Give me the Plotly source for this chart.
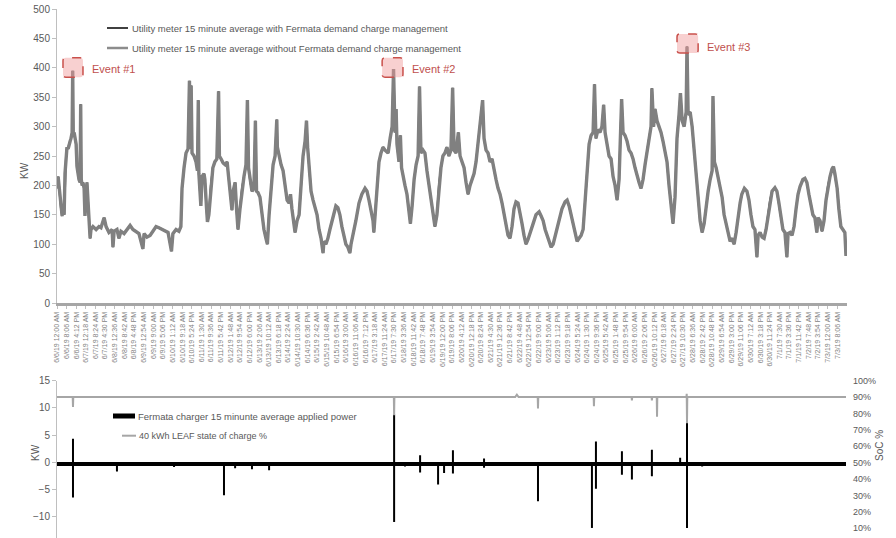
import plotly.graph_objects as go

# ---------------- data (x in days since 6/6/19 12:00 AM) ----------------
t_days = [
    0.00, 0.04, 0.07, 0.11, 0.14, 0.18, 0.21, 0.25, 0.28, 0.32, 0.35, 0.39, 0.42, 0.46, 0.49, 0.53, 0.55, 0.57,
    0.60, 0.63, 0.67, 0.70, 0.74, 0.77, 0.81, 0.83, 0.85, 0.88, 0.91, 0.95, 0.98, 1.02, 1.05, 1.09, 1.12, 1.16, 1.19,
    1.26, 1.37, 1.47, 1.54, 1.65, 1.72, 1.82, 1.93, 1.96, 2.00, 2.10, 2.17, 2.24, 2.35, 2.45, 2.56, 2.66, 2.77, 2.87,
    3.01, 3.05, 3.15, 3.26, 3.36, 3.47, 3.57, 3.68, 3.78, 3.89, 4.01, 4.06, 4.17, 4.27, 4.34,
    4.38, 4.45, 4.52, 4.59, 4.64, 4.68, 4.70, 4.73, 4.80, 4.87, 4.92, 4.95, 4.97, 5.04, 5.08, 5.15, 5.18, 5.24, 5.27,
    5.32, 5.39, 5.46, 5.53, 5.60, 5.66, 5.69, 5.75, 5.82, 5.89, 5.96, 6.01, 6.06, 6.13, 6.17, 6.24, 6.29, 6.34, 6.41,
    6.48, 6.55, 6.62, 6.67, 6.71, 6.76, 6.83, 6.90, 6.95, 6.99, 7.04, 7.11, 7.18, 7.25, 7.32, 7.37, 7.43, 7.50, 7.57,
    7.64, 7.70, 7.72, 7.78, 7.85, 7.92, 7.99, 8.06, 8.13, 8.18, 8.23, 8.27, 8.34, 8.41, 8.48,
    8.55, 8.62, 8.69, 8.74, 8.78, 8.83, 8.90, 8.97, 9.04, 9.11, 9.18, 9.25, 9.32, 9.35, 9.42, 9.49, 9.56, 9.63, 9.70,
    9.77, 9.84, 9.91, 9.98, 10.05, 10.12, 10.19, 10.26, 10.30, 10.37, 10.47, 10.58, 10.68, 10.79, 10.86, 10.93, 11.00,
    11.07, 11.10, 11.14,
    11.21, 11.28, 11.35, 11.42, 11.49, 11.60, 11.67, 11.74, 11.79, 11.84, 11.88, 11.91, 11.98, 12.03, 12.07, 12.12,
    12.19, 12.26, 12.33, 12.38, 12.44, 12.51, 12.58, 12.65, 12.70, 12.75, 12.82, 12.89, 12.96, 13.03, 13.10, 13.17,
    13.24, 13.31, 13.38, 13.45, 13.52, 13.59, 13.66, 13.73, 13.80, 13.86, 13.91, 13.98, 14.06, 14.12, 14.19, 14.26,
    14.33, 14.40, 14.47, 14.54, 14.61, 14.68, 14.75, 14.82, 14.91, 14.96, 15.03, 15.10, 15.17, 15.24, 15.31, 15.38,
    15.45, 15.52, 15.59, 15.66, 15.73, 15.80, 15.87,
    15.94, 16.01, 16.08, 16.15, 16.22, 16.29, 16.36, 16.43, 16.50, 16.57, 16.68, 16.78, 16.89, 16.96, 17.03, 17.10,
    17.17, 17.24, 17.31, 17.38, 17.48, 17.59, 17.69, 17.80, 17.87, 17.94, 18.01, 18.08, 18.15, 18.22, 18.29, 18.36,
    18.43, 18.50, 18.57, 18.64,
    18.71, 18.78, 18.83, 18.88, 18.95, 19.02, 19.09, 19.15, 19.20, 19.27, 19.34, 19.41, 19.48, 19.55, 19.62, 19.69,
    19.74, 19.78, 19.83, 19.90, 19.97, 20.04, 20.11, 20.18, 20.25, 20.32, 20.39, 20.46, 20.53, 20.60, 20.67, 20.74,
    20.81, 20.84, 20.90, 20.95, 21.02, 21.09, 21.16, 21.23, 21.30, 21.37, 21.44, 21.51, 21.58, 21.65, 21.72, 21.79,
    21.84, 21.90, 21.97, 22.04, 22.07, 22.11, 22.18, 22.25, 22.32, 22.39, 22.46, 22.53, 22.60, 22.67, 22.74, 22.81,
    22.88, 22.95, 22.98, 23.03, 23.09, 23.16, 23.23, 23.30, 23.37, 23.44, 23.51, 23.58, 23.65,
    23.72, 23.79, 23.86, 23.93, 23.99, 24.08, 24.17, 24.24, 24.31, 24.38, 24.45, 24.52, 24.56, 24.63, 24.70, 24.77,
    24.84, 24.91, 24.98, 25.05, 25.15, 25.22, 25.29, 25.36, 25.43, 25.50, 25.57, 25.61, 25.68, 25.75, 25.82, 25.89,
    25.96, 26.03, 26.13, 26.20, 26.27, 26.34, 26.41, 26.48, 26.55, 26.62, 26.66, 26.73, 26.80, 26.87, 26.94, 27.01,
    27.08, 27.15, 27.20, 27.25, 27.33, 27.39, 27.46, 27.53, 27.60, 27.64,
]
kw_without = [
    195, 215, 200, 175, 160, 148, 160, 150, 220, 255, 265, 262, 270, 275, 280, 290, 395, 285,
    290, 280, 270, 232, 215, 210, 205, 338, 210, 200, 205, 195, 148, 200, 205, 170, 130, 110, 125,
    130, 125, 130, 128, 145, 130, 120, 125, 95, 122, 125, 110, 122, 118, 125, 132, 125, 122, 118,
    92, 118, 112, 115, 122, 130, 128, 125, 122, 120, 88, 118, 125, 122, 130,
    195, 230, 255, 262, 378, 262, 370, 255, 250, 240, 225, 345, 220, 165, 215, 220, 210, 160, 138,
    150, 200, 230, 240, 245, 360, 250, 245, 238, 235, 240, 215, 195, 158, 190, 205, 160, 125, 160,
    195, 215, 235, 345, 230, 210, 190, 195, 310, 190, 188, 180, 150, 125, 110, 100, 150, 200, 235,
    250, 312, 265, 250, 235, 225, 200, 175, 170, 185, 160, 145, 120, 140, 150,
    200, 250, 275, 310, 265, 230, 190, 175, 160, 150, 125, 110, 85, 105, 100, 110, 125, 140, 155,
    165, 162, 150, 130, 115, 100, 95, 85, 100, 115, 140, 170, 185, 195, 190, 175, 155,
    140, 120, 150,
    200, 240, 255, 265, 260, 255, 280, 300, 398, 290, 330, 270, 240, 285, 230, 215,
    200, 185, 150, 135, 165, 210, 235, 250, 368, 255, 260, 255, 225, 200, 180, 150,
    130, 150, 200, 230, 250, 255, 265, 250, 260, 366, 260, 255, 290, 250, 240, 230,
    205, 185, 200, 210, 220, 240, 270, 300, 345, 280, 260, 255, 240, 245, 225, 210,
    195, 185, 170, 150, 130, 115, 110,
    130, 160, 172, 170, 155, 135, 115, 100, 108, 120, 135, 150, 155, 148, 140, 125,
    115, 105, 95, 100, 120, 140, 160, 172, 175, 165, 150, 130, 115, 105, 110, 115,
    125, 170, 230, 270,
    285, 290, 372, 280, 295, 290, 300, 337, 290, 270, 250, 245, 215, 200, 175, 210,
    290, 347, 290, 285, 275, 260, 255, 245, 230, 215, 205, 195, 210, 235, 260, 280,
    300, 365, 300, 330, 310, 300, 290, 275, 255, 240, 200, 160, 135, 180, 280, 320,
    357, 310, 300, 325, 436, 320, 325, 300, 255, 225, 180, 140, 120, 135, 165, 190,
    210, 225, 352, 240, 230, 215, 200, 180, 150, 135, 120, 105, 110,
    100, 120, 150, 170, 185, 195, 190, 175, 150, 130, 125, 78, 115, 120, 112, 110,
    125, 150, 175, 190, 196, 190, 170, 145, 125, 120, 78, 118, 120, 115, 130, 160,
    185, 198, 210, 212, 205, 185, 165, 150, 145, 120, 145, 140, 122, 140, 175, 200,
    215, 228, 232, 220, 195, 160, 130, 125, 120, 80,
]
# the "with Fermata" trace lies underneath the "without" trace in the picture
kw_with = list(kw_without)

# Fermata charger applied power: events (day, positive kW, negative kW)
power_t = [0.56, 2.10, 4.10, 5.85, 6.24, 6.83, 7.43, 11.81, 12.19, 12.72, 13.35, 13.56, 13.87, 14.96,
           16.85, 18.74, 18.88, 19.79, 20.14, 20.84, 21.83, 22.07, 22.60, 23.65]
power_up = [4.3, 0, 0, 0, 0, 0, 0, 8.8, 0, 1.3, 0, 0, 2.2, 0.7,
            0, 0, 3.8, 2.0, 0, 2.3, 0.8, 7.4, 0, 0]
power_down = [-6.5, -1.7, -0.9, -6.1, -1.1, -1.3, -1.5, -11.0, -0.8, -1.9, -4.1, -2.0, -2.1, -1.0,
              -7.2, -12.1, -4.9, -2.3, -3.2, -2.6, -0.7, -12.1, -0.8, -0.7]
power_base_t = [0.0, 27.64]
power_base = [-0.35, -0.35]

# LEAF state of charge %
soc_t = [0.0, 0.55, 0.56, 0.57, 11.80, 11.81, 11.82, 16.05, 16.11, 16.17, 16.84, 16.85, 16.86,
         18.80, 18.81, 18.82, 20.13, 20.14, 20.15, 20.83, 20.84, 20.85, 21.01, 21.02, 21.03,
         22.05, 22.06, 22.07, 22.08, 27.64]
soc = [90, 90, 84, 90, 90, 79, 90, 90, 91.5, 90, 90, 83, 90,
       90, 84.5, 90, 90, 88, 90, 90, 88, 90, 90, 78, 90,
       90, 92, 74, 90, 90]

tick_labels = [
    "6/6/19 12:00 AM", "6/6/19 8:06 AM", "6/6/19 4:12 PM", "6/7/19 12:18 AM", "6/7/19 8:24 AM", "6/7/19 4:30 PM",
    "6/8/19 12:36 AM", "6/8/19 8:42 AM", "6/8/19 4:48 PM", "6/9/19 12:54 AM", "6/9/19 9:00 AM", "6/9/19 5:06 PM",
    "6/10/19 1:12 AM", "6/10/19 9:18 AM", "6/10/19 5:24 PM", "6/11/19 1:30 AM", "6/11/19 9:36 AM", "6/11/19 5:42 PM",
    "6/12/19 1:48 AM", "6/12/19 9:54 AM", "6/12/19 6:00 PM", "6/13/19 2:06 AM", "6/13/19 10:12 AM", "6/13/19 6:18 PM",
    "6/14/19 2:24 AM", "6/14/19 10:30 AM", "6/14/19 6:36 PM", "6/15/19 2:42 AM", "6/15/19 10:48 AM", "6/15/19 6:54 PM",
    "6/16/19 3:00 AM", "6/16/19 11:06 AM", "6/16/19 7:12 PM", "6/17/19 3:18 AM", "6/17/19 11:24 AM", "6/17/19 7:30 PM",
    "6/18/19 3:36 AM", "6/18/19 11:42 AM", "6/18/19 7:48 PM", "6/19/19 3:54 AM", "6/19/19 12:00 PM", "6/19/19 8:06 PM",
    "6/20/19 4:12 AM", "6/20/19 12:18 PM", "6/20/19 8:24 PM", "6/21/19 4:30 AM", "6/21/19 12:36 PM", "6/21/19 8:42 PM",
    "6/22/19 4:48 AM", "6/22/19 12:54 PM", "6/22/19 9:00 PM", "6/23/19 5:06 AM", "6/23/19 1:12 PM", "6/23/19 9:18 PM",
    "6/24/19 5:24 AM", "6/24/19 1:30 PM", "6/24/19 9:36 PM", "6/25/19 5:42 AM", "6/25/19 1:48 PM", "6/25/19 9:54 PM",
    "6/26/19 6:00 AM", "6/26/19 2:06 PM", "6/26/19 10:12 PM", "6/27/19 6:18 AM", "6/27/19 2:24 PM", "6/27/19 10:30 PM",
    "6/28/19 6:36 AM", "6/28/19 2:42 PM", "6/28/19 10:48 PM", "6/29/19 6:54 AM", "6/29/19 3:00 PM", "6/29/19 11:06 PM",
    "6/30/19 7:12 AM", "6/30/19 3:18 PM", "6/30/19 11:24 PM", "7/1/19 7:30 AM", "7/1/19 3:36 PM", "7/1/19 11:42 PM",
    "7/2/19 7:48 AM", "7/2/19 3:54 PM", "7/3/19 12:00 AM", "7/3/19 8:06 AM",
]
tick_step_days = 8.1 / 24.0  # label spacing: 8 h 06 min
tick_vals = [i * tick_step_days for i in range(len(tick_labels))]

legend_top = ["Utility meter 15 minute average with Fermata demand charge management",
              "Utility meter 15 minute average without Fermata demand charge management"]
legend_bottom = ["Fermata charger 15 minunte average applied power", "40 kWh LEAF state of charge %"]
events = ["Event #1", "Event #2", "Event #3"]

# ---------------- figure ----------------
W, H = 896, 538
ML, MR, MT, MB = 57, 49, 9, 0
PW, PH = W - ML - MR, H - MT - MB


def px(x):
    return (x - ML) / PW


def py(y):
    return (H - MB - y) / PH


FONT = "Liberation Sans, Arial, sans-serif"
TXT = "#595959"

fig = go.Figure()
fig.add_trace(go.Scatter(x=t_days, y=kw_with, mode="lines", line=dict(color="#262626", width=2),
                         xaxis="x", yaxis="y", showlegend=False, hoverinfo="skip"))
fig.add_trace(go.Scatter(x=t_days, y=kw_without, mode="lines", line=dict(color="#808080", width=3.4),
                         xaxis="x", yaxis="y", showlegend=False))

# charger power: baseline band + vertical spikes
fig.add_trace(go.Scatter(x=power_base_t, y=power_base, mode="lines", line=dict(color="black", width=4),
                         xaxis="x2", yaxis="y2", showlegend=False, hoverinfo="skip"))
sx, sy = [], []
for t, u, d in zip(power_t, power_up, power_down):
    sx += [t, t, None]
    sy += [u, d, None]
fig.add_trace(go.Scatter(x=sx, y=sy, mode="lines", line=dict(color="black", width=2),
                         xaxis="x2", yaxis="y2", showlegend=False, connectgaps=False))
fig.add_trace(go.Scatter(x=soc_t, y=soc, mode="lines", line=dict(color="#a6a6a6", width=2),
                         xaxis="x2", yaxis="y3", showlegend=False))

x_end = 82 * tick_step_days

fig.update_layout(
    width=W, height=H, autosize=False,
    margin=dict(l=ML, r=MR, t=MT, b=MB, autoexpand=False),
    paper_bgcolor="white", plot_bgcolor="white",
    font=dict(family=FONT, color=TXT, size=10),
    showlegend=False,
    xaxis=dict(domain=[0, 1], anchor="y", range=[0, x_end], tickmode="array",
               tickvals=tick_vals, ticktext=tick_labels, tickangle=-90,
               tickfont=dict(size=7, color="#7f7f7f"), showline=True, linecolor="#a6a6a6", linewidth=3,
               ticks="outside", ticklen=3, tickcolor="#bfbfbf", showgrid=False, zeroline=False),
    yaxis=dict(domain=[py(303), 1], range=[0, 500], dtick=50, tick0=0, showline=True,
               linecolor="#bfbfbf", ticks="outside", ticklen=4, tickcolor="#bfbfbf",
               tickfont=dict(size=10, color=TXT), showgrid=False, zeroline=False),
    xaxis2=dict(domain=[0, 1], anchor="y2", matches="x", range=[0, x_end], showticklabels=False,
                showline=False, ticks="", showgrid=False, zeroline=False),
    yaxis2=dict(domain=[0, py(380.7)], range=[-13.95, 15], dtick=5, tick0=0, showline=True,
                linecolor="#bfbfbf", ticks="outside", ticklen=4, tickcolor="#bfbfbf",
                tickfont=dict(size=10, color=TXT), showgrid=False, zeroline=False),
    yaxis3=dict(overlaying="y2", side="right", anchor="x2", range=[4.1, 100], dtick=10, tick0=0,
                ticksuffix="%", showline=False, ticks="", ticklabelstandoff=5,
                tickfont=dict(size=9, color=TXT), showgrid=False, zeroline=False),
)


def rounded_rect(x0, x1, y0, y1, rx, ry):
    return (f"M {x0+rx},{y0} L {x1-rx},{y0} Q {x1},{y0} {x1},{y0+ry} L {x1},{y1-ry} "
            f"Q {x1},{y1} {x1-rx},{y1} L {x0+rx},{y1} Q {x0},{y1} {x0},{y1-ry} "
            f"L {x0},{y0+ry} Q {x0},{y0} {x0+rx},{y0} Z")


shapes = []
annotations = []
event_boxes = [(0.21, 0.91, 384, 417), (11.39, 12.12, 384, 417), (21.72, 22.46, 425, 457.5)]
event_text_pos = [(1.16, 398), (12.37, 398), (22.70, 436)]
for (x0, x1, y0, y1), (tx, ty), name in zip(event_boxes, event_text_pos, events):
    shapes.append(dict(type="path", xref="x", yref="y", path=rounded_rect(x0, x1, y0, y1, 0.1, 5),
                       line=dict(color="#c9504b", width=1.5, dash="dash"),
                       fillcolor="rgba(240,150,150,0.45)", layer="above"))
    annotations.append(dict(x=tx, y=ty, xref="x", yref="y", text=name, showarrow=False,
                            xanchor="left", yanchor="middle", font=dict(size=11, color="#c0504d")))

# top legend (drawn manually)
for (y, col, w), label in zip([(28, "#404040", 2), (48, "#8c8c8c", 2.5)], legend_top):
    shapes.append(dict(type="line", xref="paper", yref="paper", x0=px(107), x1=px(128), y0=py(y), y1=py(y),
                       line=dict(color=col, width=w)))
    annotations.append(dict(x=px(130), y=py(y), xref="paper", yref="paper", text=label, showarrow=False,
                            xanchor="left", yanchor="middle", font=dict(size=9.5, color=TXT)))

# bottom legend
shapes.append(dict(type="rect", xref="paper", yref="paper", x0=px(113), x1=px(135), y0=py(418.5), y1=py(413.5),
                   line=dict(width=0), fillcolor="black"))
annotations.append(dict(x=px(136), y=py(416), xref="paper", yref="paper", text=legend_bottom[0],
                        showarrow=False, xanchor="left", yanchor="middle", font=dict(size=9.5, color=TXT)))
shapes.append(dict(type="line", xref="paper", yref="paper", x0=px(122), x1=px(136), y0=py(435.7), y1=py(435.7),
                   line=dict(color="#a6a6a6", width=2)))
annotations.append(dict(x=px(137), y=py(435.7), xref="paper", yref="paper", text=legend_bottom[1],
                        showarrow=False, xanchor="left", yanchor="middle", font=dict(size=9, color=TXT)))

# axis titles
annotations.append(dict(x=px(17), y=py(160), xref="paper", yref="paper", text="KW", showarrow=False,
                        textangle=-90, font=dict(size=10, color=TXT)))
annotations.append(dict(x=px(28), y=py(463), xref="paper", yref="paper", text="KW", showarrow=False,
                        textangle=-90, font=dict(size=10, color=TXT)))
annotations.append(dict(x=px(887), y=py(463), xref="paper", yref="paper", text="SoC %", showarrow=False,
                        textangle=-90, font=dict(size=10, color=TXT)))

fig.update_layout(shapes=shapes, annotations=annotations)
# remove the browser's default 8px page margin so the figure sits at the window's top-left corner
fig.write_html("out.html", config={"displayModeBar": False},
               post_script="document.body.style.margin='0px';")
